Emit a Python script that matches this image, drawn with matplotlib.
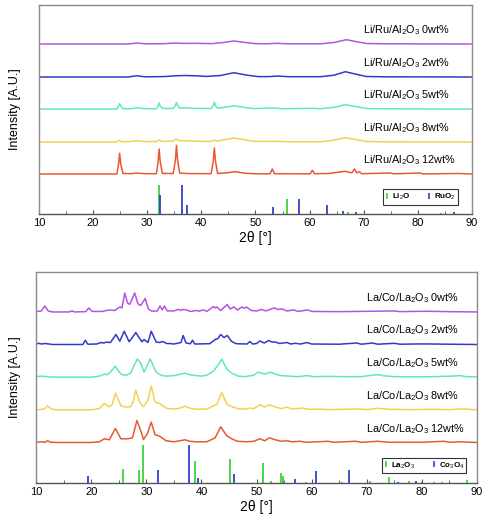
import matplotlib.pyplot as plt
from matplotlib.lines import Line2D

plt.rcParams['font.family'] = ['Liberation Sans', 'DejaVu Sans']
plt.rcParams['mathtext.fontset'] = 'custom'
plt.rcParams['mathtext.rm'] = 'Liberation Sans'
plt.rcParams['mathtext.bf'] = 'Liberation Sans:bold'

# ---------- data: Li/Ru/Al2O3 (top panel), (2theta, intensity above own baseline)
li_labels = ['Li/Ru/Al$_2$O$_3$ 0wt%', 'Li/Ru/Al$_2$O$_3$ 2wt%', 'Li/Ru/Al$_2$O$_3$ 5wt%',
             'Li/Ru/Al$_2$O$_3$ 8wt%', 'Li/Ru/Al$_2$O$_3$ 12wt%']
li_offsets = [170, 137, 105, 72, 40]

li_0 = [(10,0),(20,0),(26.5,0),(28.1,1),(29.8,0.2),(33,0.3),(35.2,1),(36.5,0.6),(39,0.7),(42,0.4),
        (44,1.5),(46,3),(48,1.6),(50,0.4),(52,0.2),(54,0.7),(56,0.2),(62,0.2),(64.5,1.5),(66.8,4.3),
        (68.8,2.2),(70.5,0.5),(74,0.2),(90,0)]
li_2 = [(10,0),(22,0),(26.5,0),(28,1.3),(29.5,0.2),(33,0.4),(35.5,1.3),(37,1.5),(39,1.2),(41,0.6),
        (43.5,1.5),(46,4.3),(48.5,1.8),(50.5,0.4),(52.5,0.4),(54.2,1),(56,0.3),(62,0.3),(64.5,1.8),
        (66.6,5.3),(68.8,2.5),(70.5,0.5),(74,0.2),(90,0)]
li_5 = [(10,0),(24.4,0),(24.7,3),(24.9,5.3),(25.1,3),(25.5,0.3),(27,0.3),(28.1,1.2),(29.5,0.3),
        (31.7,0.3),(32,3),(32.2,6),(32.4,3),(32.8,0.6),(34.8,0.6),(35.2,3.5),(35.4,6.7),(35.6,3.5),
        (36,1),(37,1.1),(39,0.6),(41.8,0.5),(42.2,3.5),(42.4,6.7),(42.6,3.5),(43,0.8),(44.5,1.8),
        (46,3.3),(47.5,2),(49.5,0.4),(53,1),(55,0.3),(60.5,0.7),(62,0.3),(64.5,1.6),(66.6,4.3),
        (68.8,2.2),(70.5,0.5),(74,0.2),(90,0)]
li_8 = [(10,0),(24.3,0),(24.8,1.7),(25.3,0.2),(26.5,0.4),(28,1.3),(29.5,0.4),(31.7,0.4),(32.2,2),
        (32.7,0.6),(34.7,0.8),(35.3,3),(35.9,1.3),(37,1.3),(39,0.8),(41.8,0.6),(42.3,2),(42.8,0.8),
        (44,2),(46,4),(48,2.2),(50,0.5),(54,0.7),(56,0.3),(62,0.3),(64.5,1.8),(66.6,4.3),(68.8,2.2),
        (70.5,0.5),(74,0.2),(90,0)]
li_12 = [(10,0),(19,0),(24.4,0),(24.7,10),(24.9,20.7),(25.1,10),(25.5,0.6),(27,0.3),(28,1),
         (29.5,0.3),(31.7,0.3),(32,12),(32.2,25),(32.4,12),(32.8,0.6),(34.8,0.5),(35.2,14),
         (35.4,28.7),(35.6,14),(36,0.8),(38,0.4),(41.8,0.3),(42.2,13),(42.4,26),(42.6,13),(43,0.6),
         (44.5,1),(46.2,2.3),(48,0.8),(50,0.2),(52.7,0.2),(53.1,5),(53.5,0.3),(60.1,0.2),(60.5,3.7),
         (60.9,0.3),(63.5,0.5),(66.5,2.7),(67.8,1.2),(68.3,5),(68.7,1),(69.2,2.3),(69.6,0.3),
         (74.8,1),(75.5,0.2),(80.3,1),(81,0.1),(87.5,0.5),(90,0)]
li_curves = [li_0, li_2, li_5, li_8, li_12]

li2o_pos = [32.1, 55.8, 67.0, 84.3]
li2o_h = [28.7, 15, 2, 1]
ruo2_pos = [32.4, 36.4, 37.3, 53.2, 58.1, 63.2, 66.2, 68.5, 86.6]
ruo2_h = [19.3, 28.7, 9.3, 7.3, 15, 9.3, 2.7, 1.5, 2]

# ---------- data: La/Co/La2O3 (bottom panel)
la_labels = ['La/Co/La$_2$O$_3$ 0wt%', 'La/Co/La$_2$O$_3$ 2wt%', 'La/Co/La$_2$O$_3$ 5wt%',
             'La/Co/La$_2$O$_3$ 8wt%', 'La/Co/La$_2$O$_3$ 12wt%']
la_offsets = [171, 138.4, 105.7, 72.7, 40]

la_0 = [(10,0.3),(11,1),(11.6,6),(12.2,1),(13,0),(16,0),(16.5,1),(17,0),(19,0.3),(19.6,4),(20.2,0.5),
        (22,0.5),(23.3,2),(24.3,1.5),(25.2,5),(25.6,4),(26.1,19),(26.6,9),(27,7.5),(27.9,19),(28.5,8),
        (29,6.5),(29.8,13.5),(30.4,3),(31,0.8),(32,1),(32.5,6),(32.9,2),(33.3,6),(33.8,1),(35,1),
        (35.8,2.5),(36.2,1.5),(36.6,2.5),(37.3,2),(38,0.5),(39.1,1.5),(39.6,0.8),(40.4,2),(41,0.5),
        (42.2,5.5),(42.5,4),(42.8,5),(43.5,1.5),(44.7,7.5),(45.2,3),(45.9,5),(46.5,2),(47.4,5),
        (47.8,3.5),(48.2,5),(49,1.5),(50,1),(50.9,2.5),(51.7,1),(53.2,4),(53.9,2.5),(54.6,3),(55.5,1),
        (56.8,2),(57.5,0.5),(59.3,2),(60,0.5),(65,0.3),(68,0.5),(75,1),(76,0.3),(80.8,0.7),(85,0.3),
        (90,0)]
la_2 = [(10,0.5),(10.5,1.2),(11,0.5),(11.6,1),(12.4,0.5),(13,0),(18.5,0),(18.95,4.3),(19.4,0.3),
        (21,0.5),(21.8,2),(22.3,1.5),(22.7,2.3),(23.5,2),(24.5,10),(25.2,3.3),(26.0,13.3),(26.9,2.7),
        (28.1,12),(29.2,2.7),(29.6,5),(30.3,2),(30.9,13.3),(31.8,2.5),(32.4,2),(33.0,3),(33.7,1),
        (34.2,1),(35,0.5),(36.3,2),(36.7,9),(37.2,1.5),(38,0.8),(38.4,4.3),(38.8,0.5),(41.5,0.8),
        (42.5,5),(43,6),(43.5,10),(44.1,7),(44.7,9),(45.5,3),(46.3,0.8),(48.3,0.5),(48.8,3),(49.3,0.5),
        (50,1),(50.6,3.5),(51.4,1.5),(52.2,4),(52.8,2.5),(53.4,2.5),(54.2,1),(55.5,2),(56.2,0.5),
        (57,1.2),(58,0.5),(59.1,2),(60,0.5),(65,0.3),(68.2,1.5),(69,0.3),(71,1.5),(72,0.3),(75,1.2),
        (76,0.3),(80,0.6),(85,0.3),(90,0)]
la_5 = [(10,0.5),(10.8,1),(11.5,0.8),(12.4,0.3),(14,0),(20,0),(21.5,1),(22.4,3),(22.9,2.5),(23.3,4),
        (24.4,11),(25.1,5),(25.6,2.5),(26.3,2),(27.2,4),(27.8,12),(28.4,18.3),(29.0,14),(29.6,5),
        (30.1,11),(30.7,18.3),(31.3,11),(31.8,5),(32.7,2),(33.5,1),(35,1.5),(36.2,3),(37,4),(37.8,2.5),
        (38.5,2),(40,1),(41,2),(42.2,6),(43,12),(43.7,18),(44.6,8),(45.5,4),(46.7,1),(48,0.5),
        (49.5,2),(50.3,5),(51.5,3),(52.5,5),(53.4,3),(54.5,1.5),(56.1,1),(57.5,0.5),(59.1,1.5),
        (60.5,0.5),(63,0.8),(66,0.5),(69,0.5),(71,2),(72,2.5),(73,1.5),(75,0.5),(78,0.3),(82,0.5),
        (85,1),(87,1.5),(88,0.5),(90,0.3)]
la_8 = [(10,0.3),(11.5,1),(12.1,4.3),(12.8,1),(14,0.3),(20,0.3),(21.5,1.5),(22.4,6.7),(23.1,3.5),
        (23.8,5),(24.4,17),(25.4,4.3),(26.3,3),(27.2,3.5),(27.6,8),(28.1,20),(28.8,8),(29.5,3.3),
        (30.3,10),(30.9,24.3),(31.6,8),(32.4,6.7),(33.6,2),(35,1),(36.1,2),(37.0,4),(37.9,2),(39,1),
        (41,1),(42.8,6),(43.7,17.7),(44.6,6),(45.5,3.5),(46.5,1.5),(48,1),(48.8,2),(49.5,1.5),
        (50.6,5.3),(51.5,3),(52.3,5.3),(53.4,3),(54.5,1.5),(55.5,3),(56.5,1),(58.2,2),(59.5,0.8),
        (61,1),(63,0.5),(66,0.8),(68,1.2),(70,0.5),(72,1.8),(74,0.8),(78,0.5),(82,0.8),(85,0.5),
        (87.5,1.2),(90,0.3)]
la_12 = [(10,0.5),(11,1),(11.6,0.5),(12.1,2),(12.7,0.5),(14,0.3),(20,0.3),(21.5,1),(22.4,4),(23.3,3),
         (24.4,14.3),(25.4,4),(26.6,4),(27.5,5),(28.3,22.3),(29.0,12),(29.5,3.3),(30.2,9),(30.9,20.7),
         (31.6,8),(32.4,6.7),(33.6,2),(35,1),(36.6,2.5),(37,3),(37.9,1.5),(39,1),(41,1),(42.5,5),
         (43.5,16),(44.6,7),(45.5,4),(46.5,1.5),(48.2,1),(49.5,1.5),(50.6,4),(51.5,2),(52.3,5),
         (53.4,3),(54.5,1.5),(55.5,2),(56.5,1),(57.9,1.5),(59,0.5),(63,1.5),(64,0.5),(68,1.5),(69,0.5),
         (72,1.5),(74,0.5),(80,0.5),(84,1.5),(85,0.5),(87,1),(90,0.3)]
la_curves = [la_0, la_2, la_5, la_8, la_12]

la2o3_pos = [25.7, 28.6, 29.4, 38.8, 45.2, 51.1, 52.6, 54.4, 54.8, 59.0, 65.5, 70.6, 74.0, 77.7,
             79.0, 82.2, 83.7, 88.2]
la2o3_h = [13.3, 12.7, 37.7, 22, 24, 19.7, 1.5, 9.3, 7, 1, 1, 2, 5.3, 1.5, 1, 1, 1, 2.5]
co3o4_pos = [19.5, 32.1, 37.8, 39.4, 45.9, 56.9, 60.8, 66.7, 75.7, 79.0, 80.0]
co3o4_h = [7, 12.7, 37.7, 4.3, 8.3, 3.3, 11.7, 12.7, 1, 2, 1]

colors = ['#B455E0', '#3538C8', '#5FE6C8', '#F3D250', '#E65A32']
stick_green = '#3CD23C'
stick_blue = '#3040D0'


def panel(ax, curves, offsets, labels, g_pos, g_h, b_pos, b_h, g_name, b_name, ytop, leg_xy):
    for pts, off, lab, col in zip(curves, offsets, labels, colors):
        xs = [p[0] for p in pts]
        ys = [p[1] + off for p in pts]
        ax.plot(xs, ys, color=col, lw=1.1)
        ax.text(69.9, off + 14, lab, fontsize=7.8, va='center', ha='left')
    ax.vlines(g_pos, 0, g_h, color=stick_green, lw=1.3)
    ax.vlines(b_pos, 0, b_h, color=stick_blue, lw=1.3)
    ax.set_xlim(10, 90)
    ax.set_ylim(0, ytop)
    ax.set_xticks(range(10, 91, 10))
    ax.set_xticks(range(15, 90, 10), minor=True)
    ax.set_yticks([])
    ax.tick_params(axis='x', direction='in', length=3, labelsize=8, pad=3, color='#555555')
    ax.tick_params(axis='x', which='minor', direction='in', length=2, color='#555555')
    for s in ax.spines.values():
        s.set_color('#8a8a8a')
        s.set_linewidth(1.0)
    ax.spines['bottom'].set_color('#555555')
    ax.set_xlabel('2θ [°]', fontsize=10, labelpad=2)
    handles = [Line2D([], [], color=stick_green, marker='|', ls='none', markersize=5, mew=1.2),
               Line2D([], [], color=stick_blue, marker='|', ls='none', markersize=5, mew=1.2)]
    leg = ax.legend(handles, [g_name, b_name], loc='center', bbox_to_anchor=leg_xy,
                    bbox_transform=fig.transFigure, ncol=2, frameon=True,
                    fancybox=False, edgecolor='black', handlelength=0.6, handletextpad=0.3,
                    columnspacing=2.0, borderpad=0.3, prop={'weight': 'bold', 'size': 5.8})
    leg.get_frame().set_linewidth(0.8)


fig = plt.figure(figsize=(4.88, 5.18), dpi=100)
ax1 = fig.add_axes([0.0799, 0.5869, 0.8873, 0.4034])
ax2 = fig.add_axes([0.0738, 0.0681, 0.9037, 0.4068])

panel(ax1, li_curves, li_offsets, li_labels, li2o_pos, li2o_h, ruo2_pos, ruo2_h,
      'Li$_2$O', 'RuO$_2$', 209, (420.5 / 488, 1 - 197 / 518))
panel(ax2, la_curves, la_offsets, la_labels, la2o3_pos, la2o3_h, co3o4_pos, co3o4_h,
      'La$_2$O$_3$', 'Co$_3$O$_4$', 211, (424 / 488, 1 - 465.5 / 518))

fig.text(15 / 488, 1 - 109 / 518, 'Intensity [A.U.]', rotation=90, fontsize=9,
         ha='center', va='center')
fig.text(15 / 488, 1 - 377 / 518, 'Intensity [A.U.]', rotation=90, fontsize=9,
         ha='center', va='center')

fig.savefig('out.png', dpi=100)
